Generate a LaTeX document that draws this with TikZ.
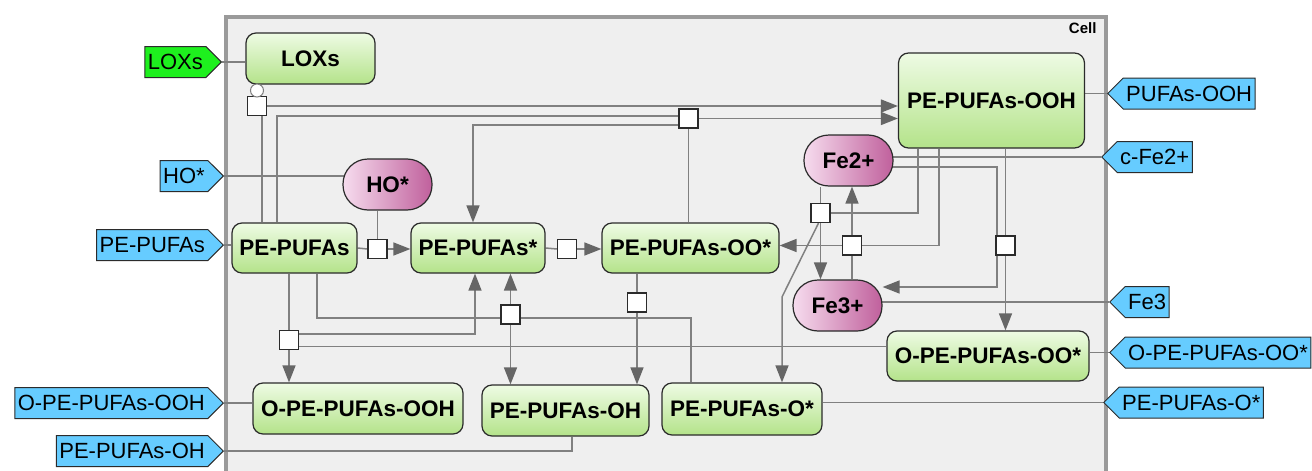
\documentclass[tikz,border=0pt]{standalone}
\usepackage{fontspec}
\setmainfont{Liberation Sans}
\usetikzlibrary{shapes.symbols,arrows.meta}
\pgfdeclarelayer{bg}
\pgfsetlayers{bg,main}

\definecolor{gTop}{HTML}{EEFBE4}
\definecolor{gBot}{HTML}{B4E38A}
\definecolor{pinkL}{HTML}{F6DCEE}
\definecolor{pinkD}{HTML}{C0609C}
\definecolor{tagBlue}{HTML}{66CCFF}
\definecolor{tagGreen}{HTML}{1EF01E}
\definecolor{lineGrey}{HTML}{808080}
\definecolor{arrowGrey}{HTML}{666666}
\definecolor{cellFill}{HTML}{EFEFEF}
\definecolor{cellBorder}{HTML}{9A9A9A}
\definecolor{edgeDark}{HTML}{2B2B2B}

\begin{document}
\begin{tikzpicture}[x=1pt,y=-1pt,
  species/.style={draw=edgeDark, line width=1.2pt, rounded corners=10pt,
    top color=gTop, bottom color=gBot, inner sep=0pt,
    font=\fontsize{22.5}{24}\selectfont\bfseries},
  ion/.style={draw=edgeDark, line width=1.2pt, rounded corners=25pt,
    left color=pinkL, right color=pinkD, inner sep=0pt,
    minimum width=89pt, minimum height=51pt,
    font=\fontsize{22.5}{24}\selectfont\bfseries},
  proc/.style={draw=edgeDark, fill=white, line width=1.2pt,
    minimum size=19pt, inner sep=0pt},
  modcircle/.style={circle, draw=lineGrey, fill=white, line width=1pt,
    minimum size=13pt, inner sep=0pt},
  tagbase/.style={signal, draw=edgeDark, line width=1pt, fill=tagBlue,
    signal pointer angle=90, minimum height=31pt, inner ysep=0pt,
    inner xsep=3pt, font=\fontsize{22}{24}\selectfont},
  tagL/.style={tagbase, signal to=east, anchor=east},
  tagR/.style={tagbase, signal to=west, anchor=west},
  link/.style={draw=lineGrey, line width=1.5pt},
  arr/.style={link, -{Triangle[length=17pt,width=13pt,color=arrowGrey]}}
]
\useasboundingbox (0,0) rectangle (1312,471);

% species
\node[species, minimum width=129pt, minimum height=51pt] (loxs) at (310.5,58.5) {LOXs};
\node[species, minimum width=186pt, minimum height=95pt] (ooh) at (991.5,100.5) {PE-PUFAs-OOH};
\node[species, minimum width=125pt, minimum height=50pt] (pufa) at (294.5,248) {PE-PUFAs};
\node[species, minimum width=134pt, minimum height=50pt] (pufas) at (478,248) {PE-PUFAs*};
\node[species, minimum width=177pt, minimum height=50pt] (oo) at (690.5,248) {PE-PUFAs-OO*};
\node[species, minimum width=202pt, minimum height=50pt] (opoo) at (988,356) {O-PE-PUFAs-OO*};
\node[species, minimum width=210pt, minimum height=51pt] (opooh) at (358,408.5) {O-PE-PUFAs-OOH};
\node[species, minimum width=167pt, minimum height=51pt] (oh) at (565.5,410.5) {PE-PUFAs-OH};
\node[species, minimum width=160pt, minimum height=52pt] (os) at (742,409) {PE-PUFAs-O*};
\node[ion] (ho) at (387.5,184.5) {HO*};
\node[ion] (fe2) at (848.5,160.5) {Fe2+};
\node[ion] (fe3) at (837.5,305.5) {Fe3+};

% process squares
\node[proc] (pLox) at (257,106) {};
\node[proc] (p2) at (688.5,118.5) {};
\node[proc] (pHo) at (377.5,249) {};
\node[proc] (p3) at (567,249) {};
\node[proc] (pFa) at (820.5,213) {};
\node[proc] (pFb) at (852,245.5) {};
\node[proc] (pOo) at (1005.5,245.5) {};
\node[proc] (pL) at (289,340) {};
\node[proc] (pM) at (510.5,314.5) {};
\node[proc] (pOh) at (637,302.5) {};
\node[modcircle] (cat) at (257,90.5) {};

% tags outside the cell
\node[tagL, fill=tagGreen] (tagLox) at (222,62) {LOXs};
\node[tagL] (tagHo) at (224,176) {HO*};
\node[tagL] (tagPufa) at (224,245) {PE-PUFAs};
\node[tagL] (tagOpooh) at (224,403) {O-PE-PUFAs-OOH};
\node[tagL] (tagOh) at (224,451) {PE-PUFAs-OH};
\node[tagR] (tagPooh) at (1107,93.5) {PUFAs-OOH};
\node[tagR] (tagCfe) at (1101,157) {c-Fe2+};
\node[tagR] (tagFe3) at (1109,302) {Fe3};
\node[tagR] (tagOpoo) at (1109,352.5) {O-PE-PUFAs-OO*};
\node[tagR] (tagOs) at (1103,402.5) {PE-PUFAs-O*};

\begin{pgfonlayer}{bg}
  % compartment
  \draw[line width=4pt, draw=cellBorder, fill=cellFill] (226,17) rectangle (1105.5,520);
  \node[anchor=base east, font=\fontsize{15}{15}\selectfont\bfseries] (cellLabel) at (1100,33) {Cell};

  % tag links
  \draw[link] (tagLox.east) -- (tagLox.east -| loxs.west);
  \draw[link] (tagHo.east) -- (tagHo.east -| ho.center);
  \draw[link] (tagPufa.east) -- (tagPufa.east -| pufa.west);
  \draw[link] (tagOpooh.east) -- (tagOpooh.east -| opooh.west);
  \draw[link] (tagOh.east) -| ([xshift=6.5pt]oh.south);
  \draw[link] (tagPooh.west) -- (tagPooh.west -| ooh.east);
  \draw[link] (tagCfe.west) -- (tagCfe.west -| fe2.center);
  \draw[link] (tagFe3.west) -- (tagFe3.west -| fe3.center);
  \draw[link] (tagOpoo.west) -- (tagOpoo.west -| opoo.east);
  \draw[link] (tagOs.west) -- (tagOs.west -| os.east);

  % LOXs catalysis
  \draw[link] (cat.north) -- (cat.north |- loxs.south);
  \draw[link] (cat.south) -- (pLox.north);
  \draw[link] (262,0 |- pLox.south) -- (262,0 |- pufa.north);
  \draw[arr] (pLox.east) -- (pLox.east -| ooh.west);

  % PE-PUFAs-OO* + PE-PUFAs
  \draw[link] (277,0 |- pufa.north) |- ([yshift=2.5pt]p2.west);
  \draw[link] (p2.south) -- (p2.south |- oo.north);
  \draw[arr] (p2.east) -- (p2.east -| ooh.west);
  \draw[arr] ([yshift=-6.5pt]p2.west) -| (473,0 |- pufas.north);

  % HO* attack
  \draw[link] (pufa.east) -- (pHo.west);
  \draw[link] (pHo.north) -- (pHo.north |- ho.south);
  \draw[arr] (pHo.east) -- (pHo.east -| pufas.west);

  % oxygen addition
  \draw[link] (pufas.east) -- (p3.west);
  \draw[arr] (p3.east) -- (p3.east -| oo.west);

  % Fenton reaction
  \draw[link] (pFa.north) -- (pFa.north |- fe2.south);
  \draw[link] (918,0 |- ooh.south) |- (pFa.east);
  \draw[arr] (pFa.south) -- (pFa.south |- fe3.north);
  \draw[arr] ([xshift=-2pt]pFa.south) -- (782,297) -- (782,0 |- os.north);

  % Fe3+ reduction
  \draw[link] (pFb.south) -- (pFb.south |- fe3.north);
  \draw[link] (939,0 |- ooh.south) |- (pFb.east);
  \draw[arr] (pFb.north) -- (pFb.north |- fe2.south);
  \draw[arr] (pFb.west) -- (pFb.west -| oo.east);

  % O-PE-PUFAs-OO* formation
  \draw[link] (pOo.north) -- (pOo.north |- ooh.south);
  \draw[link] ([yshift=-6.5pt]fe2.center) -| ([xshift=-8.5pt]pOo.north);
  \draw[arr] (pOo.south) -- (pOo.south |- opoo.north);
  \draw[arr] ([xshift=-8.5pt]pOo.south) |- ([yshift=18.5pt]fe3.east);

  % propagation by O-PE-PUFAs-OO*
  \draw[link] (pL.north) -- (pL.north |- pufa.south);
  \draw[link] ([yshift=-6.5pt]pL.east) -- ([yshift=-6.5pt]pL.east -| opoo.west);
  \draw[arr] (pL.south) -- (pL.south |- opooh.north);
  \draw[arr] ([yshift=6pt]pL.east) -| (475,0 |- pufas.south);

  % propagation by PE-PUFAs-O*
  \draw[link] (317,0 |- pufa.south) |- ([yshift=-3.5pt]pM.west);
  \draw[link] (691,0 |- os.north) |- ([yshift=-3.5pt]pM.east);
  \draw[arr] (pM.north) -- (pM.north |- pufas.south);
  \draw[arr] (pM.south) -- (pM.south |- oh.north);

  % reduction of PE-PUFAs-OO*
  \draw[link] (pOh.north) -- (pOh.north |- oo.south);
  \draw[arr] (pOh.south) -- (pOh.south |- oh.north);
\end{pgfonlayer}
\end{tikzpicture}
\end{document}
